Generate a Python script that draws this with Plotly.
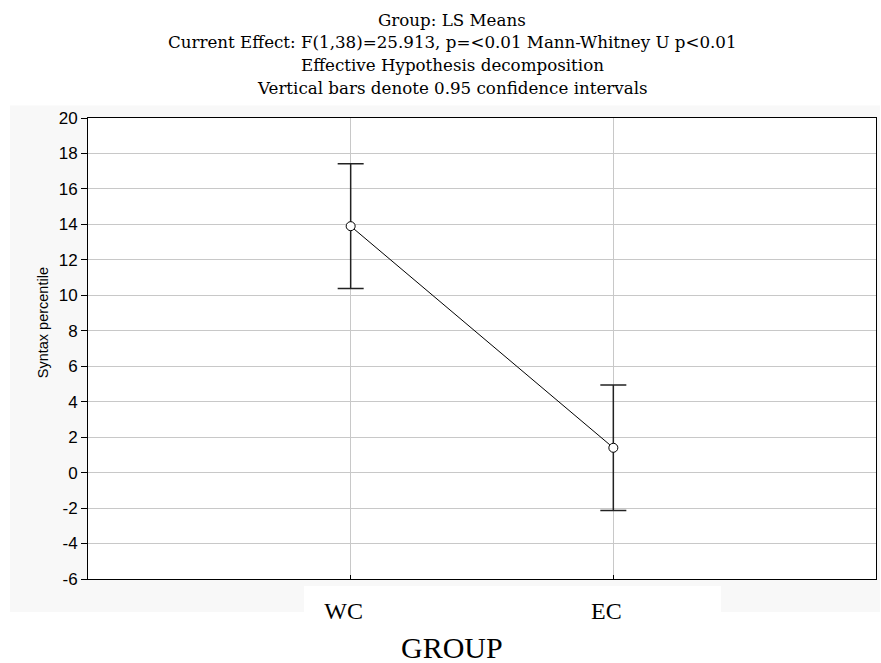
import plotly.graph_objects as go

groups = ["WC", "EC"]
means = [13.9, 1.4]
ci_half = [3.52, 3.54]
y_ticks = [-6, -4, -2, 0, 2, 4, 6, 8, 10, 12, 14, 16, 18, 20]
y_tick_text = [str(v) for v in y_ticks]
title_lines = [
    "Group: LS Means",
    "Current Effect: F(1,38)=25.913, p=<0.01 Mann-Whitney U p<0.01",
    "Effective Hypothesis decomposition",
    "Vertical bars denote 0.95 confidence intervals",
]

W, H = 881, 663
L, R, T, B = 88, 876, 117.5, 579
pw, ph = R - L, B - T

def px(x):
    return (x - L) / pw

def py(y):
    return (B - y) / ph

fig = go.Figure()
fig.add_trace(go.Scatter(
    x=groups, y=means, mode="lines+markers",
    line=dict(color="black", width=1),
    marker=dict(symbol="circle", size=9, color="white", line=dict(color="black", width=1)),
    error_y=dict(type="data", array=ci_half, visible=True, color="#222222", thickness=1.5, width=13),
    showlegend=False,
))

serif = "Liberation Serif"
title_font = "DejaVu Serif"
sans = "Liberation Sans"

shapes = [
    dict(type="rect", xref="paper", yref="paper", x0=px(10), x1=px(880), y0=py(612), y1=py(105),
         fillcolor="#f8f8f8", line=dict(width=0), layer="below"),
    dict(type="rect", xref="paper", yref="paper", x0=px(304), x1=px(721), y0=py(612), y1=py(586),
         fillcolor="white", line=dict(width=0), layer="below"),
    dict(type="rect", xref="paper", yref="paper", x0=0, x1=1, y0=0, y1=1,
         fillcolor="white", line=dict(width=0), layer="below"),
]

annotations = []
for i, t in enumerate(title_lines):
    annotations.append(dict(text=t, xref="paper", yref="paper", x=px(452), y=py(19 + i * 22.8),
                            showarrow=False, xanchor="center", yanchor="middle",
                            font=dict(family=title_font, size=16.7, color="black")))
annotations.append(dict(text="GROUP", xref="paper", yref="paper", x=px(452), y=py(648),
                        showarrow=False, xanchor="center", yanchor="middle",
                        font=dict(family=serif, size=30, color="black")))
annotations.append(dict(text="Syntax percentile", xref="paper", yref="paper", x=px(43), y=py(323),
                        showarrow=False, xanchor="center", yanchor="middle", textangle=-90,
                        font=dict(family=sans, size=14.5, color="black")))

fig.update_layout(
    width=W, height=H,
    margin=dict(l=L, r=W - R, t=T, b=H - B, pad=0),
    paper_bgcolor="white", plot_bgcolor="white",
    shapes=shapes, annotations=annotations,
    xaxis=dict(type="category", range=[-1, 2], showgrid=True, gridcolor="#c8c8c8", gridwidth=1,
               showline=True, linecolor="black", linewidth=1, mirror=True,
               ticks="inside", ticklen=4, tickcolor="black",
               tickfont=dict(family=serif, size=24, color="black"), ticklabelstandoff=10,
               ticklabelshift=-7, zeroline=False),
    yaxis=dict(range=[-6, 20], tickvals=y_ticks, ticktext=y_tick_text, showgrid=True,
               gridcolor="#c8c8c8", gridwidth=1,
               showline=True, linecolor="black", linewidth=1, mirror=True,
               ticks="outside", ticklen=6, tickcolor="black",
               tickfont=dict(family=sans, size=17, color="black"),
               zeroline=False),
)

fig.write_html("out.html")
